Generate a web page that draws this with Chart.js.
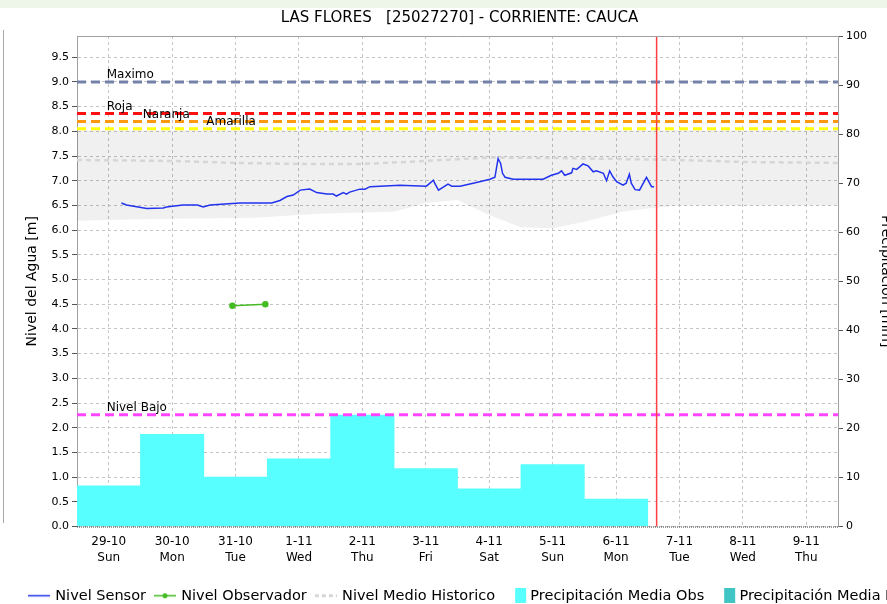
<!DOCTYPE html>
<html>
<head>
<meta charset="utf-8">
<script src="https://cdn.jsdelivr.net/npm/chart.js"></script>
<style>
  html, body { margin: 0; padding: 0; background: #fff; overflow: hidden; }
  #wrap { position: relative; width: 887px; height: 604px; overflow: hidden; background: #fff; }
  #grafico { position: absolute; left: 0; top: 0; }
  #franja { position: absolute; left: 0; top: 0; width: 887px; height: 8px; background: #eef6ea; }
  #ejeVecino { position: absolute; left: 3px; top: 30px; width: 1px; height: 493px; background: #a8a8a8; }
</style>
</head>
<body>
<div id="wrap">
  <canvas id="grafico" width="1000" height="613"></canvas>
  <div id="franja"></div>
  <div id="ejeVecino"></div>
</div>
<script>
const titulo = "LAS FLORES   [25027270] - CORRIENTE: CAUCA";
const fechas = ["29-10", "30-10", "31-10", "1-11", "2-11", "3-11", "4-11", "5-11", "6-11", "7-11", "8-11", "9-11"];
const dias = ["Sun", "Mon", "Tue", "Wed", "Thu", "Fri", "Sat", "Sun", "Mon", "Tue", "Wed", "Thu"];

// nivel del sensor (x = posicion en dias desde 29-10)
const sensorX = [0.20, 0.28, 0.60, 0.86, 0.91, 1.17, 1.40, 1.49, 1.60, 2.07, 2.57, 2.70, 2.81, 2.91, 3.02, 3.17, 3.28, 3.44, 3.54, 3.59, 3.70, 3.75, 3.80, 3.96, 4.04, 4.12, 4.28, 4.59, 5.01, 5.12, 5.14, 5.20, 5.35, 5.41, 5.54, 5.85, 6.01, 6.09, 6.14, 6.18, 6.21, 6.25, 6.38, 6.85, 6.98, 7.09, 7.14, 7.19, 7.30, 7.32, 7.38, 7.48, 7.56, 7.64, 7.69, 7.80, 7.85, 7.90, 7.95, 8.01, 8.11, 8.16, 8.21, 8.24, 8.30, 8.37, 8.48, 8.56, 8.60];
const sensorY = [6.55, 6.51, 6.44, 6.45, 6.47, 6.51, 6.51, 6.47, 6.51, 6.55, 6.55, 6.60, 6.68, 6.71, 6.81, 6.83, 6.76, 6.73, 6.73, 6.69, 6.76, 6.73, 6.77, 6.83, 6.83, 6.88, 6.89, 6.91, 6.89, 7.01, 6.95, 6.81, 6.93, 6.89, 6.89, 6.98, 7.03, 7.07, 7.45, 7.35, 7.15, 7.07, 7.03, 7.03, 7.11, 7.15, 7.20, 7.11, 7.16, 7.25, 7.23, 7.34, 7.30, 7.18, 7.20, 7.15, 7.00, 7.20, 7.08, 6.98, 6.91, 6.95, 7.13, 6.95, 6.82, 6.81, 7.07, 6.88, 6.88];

const observadorX = [1.95, 2.47];
const observadorY = [4.47, 4.50];

const historicoX = [-0.5, 1, 2, 3, 4, 5, 6, 7, 8, 9, 10, 11.5];
const historicoY = [7.42, 7.40, 7.36, 7.34, 7.34, 7.40, 7.47, 7.46, 7.44, 7.42, 7.38, 7.36];

const bandaX = [-0.5, 0.5, 2.3, 3.3, 4.5, 5.0, 5.5, 6.0, 6.5, 7.0, 7.5, 8.1, 8.5, 9.0, 11.5];
const bandaMin = [6.19, 6.22, 6.25, 6.33, 6.37, 6.55, 6.61, 6.30, 6.06, 6.04, 6.17, 6.37, 6.44, 6.50, 6.50];
const bandaMax = [8.02, 8.02, 8.02, 8.02, 8.02, 8.02, 8.02, 8.02, 8.02, 8.02, 8.02, 8.02, 8.02, 8.02, 8.02];

const precipitacion = [8.3, 18.8, 10.1, 13.8, 22.7, 11.8, 7.7, 12.6, 5.6];

const umbralNombre = ["Maximo", "Roja", "Naranja", "Amarilla", "Nivel Bajo"];
const umbralValor = [9.0, 8.36, 8.20, 8.05, 2.26];
const umbralColor = ["#7482aa", "#ff1010", "#ff9a10", "#ffff10", "#ff44ff"];
const umbralEtiquetaX = [0, 0, 0.57, 1.57, 0];

const ahora = 8.64;

const ticksNivel = [0, 0.5, 1, 1.5, 2, 2.5, 3, 3.5, 4, 4.5, 5, 5.5, 6, 6.5, 7, 7.5, 8, 8.5, 9, 9.5];
const ticksPrecip = [0, 10, 20, 30, 40, 50, 60, 70, 80, 90, 100];

const fuente = "DejaVu Sans";
const puntos = (xs, ys) => xs.map((x, i) => ({ x: x, y: ys[i] }));

function icono(tipo, color) {
  const c = document.createElement("canvas");
  if (tipo === "caja") {
    c.width = 44;
    c.height = 15;
    const g = c.getContext("2d");
    g.fillStyle = color;
    g.fillRect(23, 0, 11, 15);
    return c;
  }
  c.width = 22;
  c.height = 7;
  const g = c.getContext("2d");
  g.strokeStyle = color;
  g.lineWidth = tipo === "guion" ? 3 : 1.5;
  if (tipo === "guion") g.setLineDash([4, 3]);
  g.beginPath();
  g.moveTo(0, 3.5);
  g.lineTo(22, 3.5);
  g.stroke();
  if (tipo === "punto") {
    g.fillStyle = color;
    g.beginPath();
    g.arc(11, 3.5, 2.5, 0, Math.PI * 2);
    g.fill();
  }
  return c;
}

const leyenda = [
  { texto: "Nivel Sensor", icono: icono("linea", "#2233ee") },
  { texto: "Nivel Observador", icono: icono("punto", "#44bb22") },
  { texto: "Nivel Medio Historico", icono: icono("guion", "#d6d6d6") },
  { texto: "Precipitación Media Obs", icono: icono("caja", "#58ffff") },
  { texto: "Precipitación Media Pro", icono: icono("caja", "#40c4c4") }
];

const datasets = [
  { label: "Nivel Sensor", type: "line", data: puntos(sensorX, sensorY), borderColor: "#2233ee", borderWidth: 1.5, pointRadius: 0, yAxisID: "y", order: 0 },
  { label: "Nivel Observador", type: "line", data: puntos(observadorX, observadorY), borderColor: "#44bb22", backgroundColor: "#44bb22", borderWidth: 1.5, pointRadius: 2.5, yAxisID: "y", order: 1 },
  { label: "Nivel Medio Historico", type: "line", data: puntos(historicoX, historicoY), borderColor: "#d6d6d6", borderWidth: 2.5, borderDash: [5, 4], pointRadius: 0, yAxisID: "y", order: 4 },
  { label: "Precipitación Media Obs", type: "bar", data: precipitacion.map((v, i) => ({ x: i, y: v })), backgroundColor: "#58ffff", borderWidth: 0, grouped: false, barPercentage: 1, categoryPercentage: 1, yAxisID: "y1", order: 5 },
  { label: "Precipitación Media Pro", type: "bar", data: [], backgroundColor: "#40c4c4", borderWidth: 0, grouped: false, barPercentage: 1, categoryPercentage: 1, yAxisID: "y1", order: 5 },
  { label: "ahora", type: "line", data: [{ x: ahora, y: 0 }, { x: ahora, y: 9.93 }], borderColor: "#ff4040", borderWidth: 1.5, pointRadius: 0, yAxisID: "y", order: 2 }
];

umbralNombre.forEach((n, i) => {
  datasets.push({ label: n, type: "line", data: [{ x: -0.5, y: umbralValor[i] }, { x: 11.5, y: umbralValor[i] }], borderColor: umbralColor[i], borderWidth: 3, borderDash: [9, 5], pointRadius: 0, yAxisID: "y", order: 3 });
});

datasets.push({ label: "banda max", type: "line", data: puntos(bandaX, bandaMax), borderWidth: 0, borderColor: "rgba(0,0,0,0)", backgroundColor: "rgba(0,0,0,0.058)", fill: "+1", pointRadius: 0, yAxisID: "y", order: 6 });
datasets.push({ label: "banda min", type: "line", data: puntos(bandaX, bandaMin), borderWidth: 0, borderColor: "rgba(0,0,0,0)", pointRadius: 0, fill: false, yAxisID: "y", order: 6 });

const extras = {
  id: "extras",
  afterDatasetsDraw(chart) {
    const ctx = chart.ctx;
    const x = chart.scales.x, y = chart.scales.y;
    ctx.save();
    ctx.font = "12px " + fuente;
    ctx.fillStyle = "#000";
    ctx.textBaseline = "middle";
    ctx.textAlign = "left";
    umbralNombre.forEach((n, i) => {
      ctx.fillText(n, x.getPixelForValue(umbralEtiquetaX[i]) - 2, y.getPixelForValue(umbralValor[i]) - 7);
    });
    ctx.restore();
  },
  afterDraw(chart) {
    const ctx = chart.ctx;
    const a = chart.chartArea;
    ctx.save();
    ctx.font = "15px " + fuente;
    ctx.fillStyle = "#000";
    ctx.textAlign = "center";
    ctx.textBaseline = "middle";
    ctx.fillText(titulo, (a.left + a.right) / 2 + 2, 18);
    ctx.strokeStyle = "#a0a0a0";
    ctx.lineWidth = 1;
    ctx.beginPath();
    ctx.moveTo(a.left, a.top + 0.5);
    ctx.lineTo(a.right, a.top + 0.5);
    ctx.stroke();
    ctx.strokeStyle = "#333";
    ctx.setLineDash([1, 1]);
    ctx.beginPath();
    ctx.moveTo(a.left, a.bottom + 0.5);
    ctx.lineTo(a.right, a.bottom + 0.5);
    ctx.stroke();
    ctx.restore();
  }
};

Chart.defaults.font.family = fuente;
Chart.defaults.color = "#000";

new Chart(document.getElementById("grafico"), {
  data: { datasets: datasets },
  options: {
    responsive: false,
    animation: false,
    devicePixelRatio: 1,
    layout: { padding: { left: 20, right: 0, top: 36, bottom: 0 } },
    scales: {
      x: {
        type: "linear", min: -0.5, max: 11.5, offset: false,
        afterBuildTicks: s => { s.ticks = fechas.map((f, i) => ({ value: i })); },
        afterFit: s => { s.height = 52; },
        ticks: { autoSkip: false, maxRotation: 0, padding: 8, font: { size: 12, lineHeight: 1.3 }, color: "#000", callback: (v, i) => [fechas[i], dias[i]] },
        grid: { color: "#c4c4c4", drawTicks: false, offset: false },
        border: { display: false, dash: [3, 3] }
      },
      y: {
        position: "left", min: 0, max: 9.93,
        afterBuildTicks: s => { s.ticks = ticksNivel.map(v => ({ value: v })); },
        afterFit: s => { s.width = 57; },
        ticks: { padding: 3, font: { size: 11 }, color: "#000", callback: v => v.toFixed(1) },
        grid: { color: "#c4c4c4", tickColor: "#555", tickLength: 5 },
        border: { color: "#a0a0a0", dash: [3, 3] },
        title: { display: true, text: "Nivel del Agua [m]", font: { size: 14 }, color: "#000", padding: { top: 3.6, bottom: 0 } }
      },
      y1: {
        position: "right", min: 0, max: 100,
        afterBuildTicks: s => { s.ticks = ticksPrecip.map(v => ({ value: v })); },
        afterFit: s => { s.width = 162; },
        ticks: { padding: 3, font: { size: 11 }, color: "#000" },
        grid: { drawOnChartArea: false, color: "#555", tickColor: "#555", tickLength: 5 },
        border: { color: "#a0a0a0" },
        title: { display: true, text: "Precipitación [mm]", font: { size: 14 }, color: "#000", padding: { top: 105.6, bottom: 0 } }
      }
    },
    plugins: {
      title: { display: false },
      tooltip: { enabled: false },
      legend: {
        position: "bottom",
        align: "start",
        labels: {
          usePointStyle: true,
          pointStyleWidth: 18,
          padding: 10,
          font: { size: 14.5 },
          color: "#000",
          generateLabels: () => leyenda.map((l, i) => ({
            text: l.texto, pointStyle: l.icono, fillStyle: "rgba(0,0,0,0)", strokeStyle: "rgba(0,0,0,0)",
            lineWidth: 0, hidden: false, datasetIndex: i, fontColor: "#000"
          }))
        }
      }
    }
  },
  plugins: [extras]
});
</script>
</body>
</html>
